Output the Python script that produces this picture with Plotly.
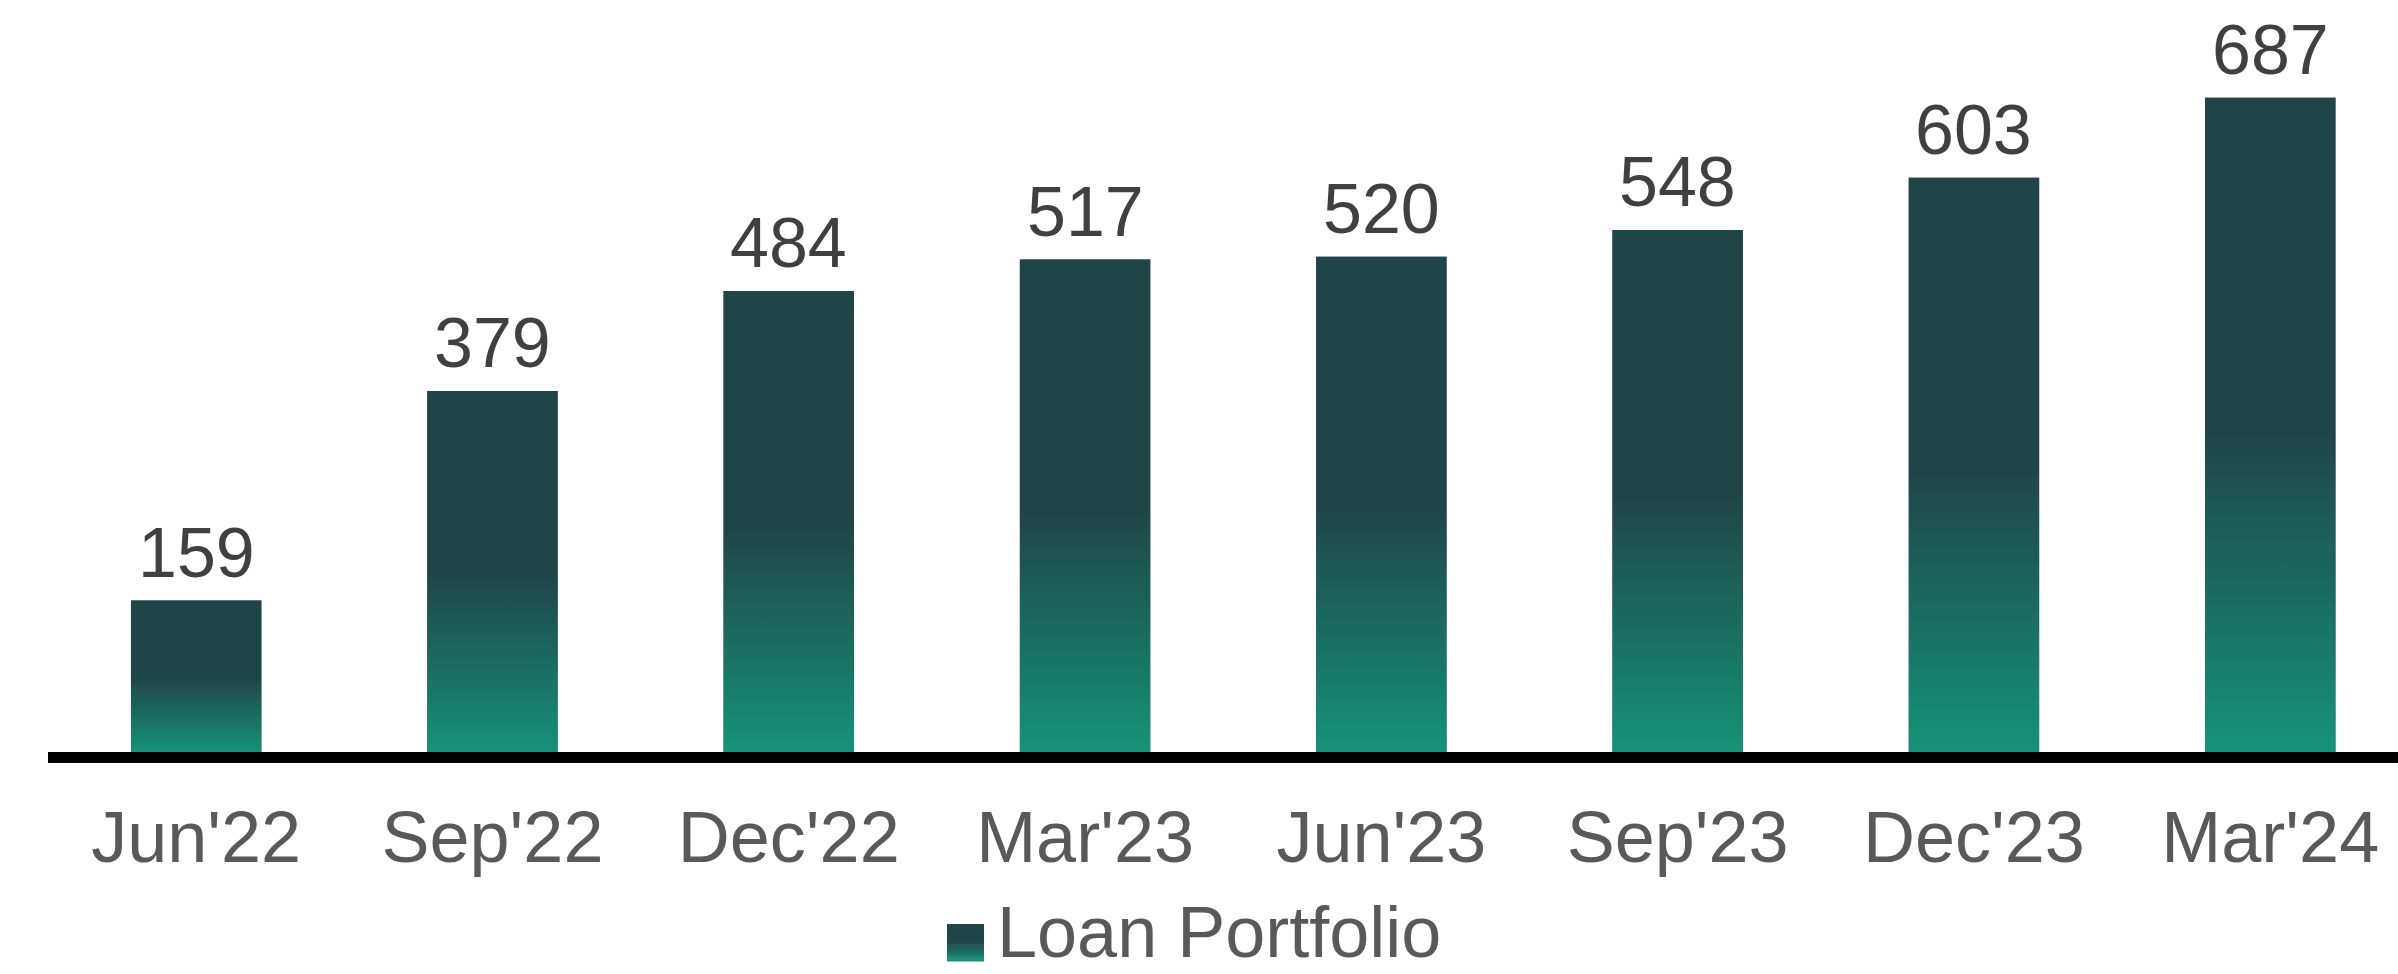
import plotly.graph_objects as go

# Quarter-end loan portfolio values
quarters = ["Jun'22", "Sep'22", "Dec'22", "Mar'23", "Jun'23", "Sep'23", "Dec'23", "Mar'24"]
loan_portfolio = [159, 379, 484, 517, 520, 548, 603, 687]
series_name = "Loan Portfolio"

W, H = 2398, 974
M_L, M_R, M_T, M_B = 48, 0, 0, 222
DARK = "#204548"
GREEN = "#159378"
FONT = "Liberation Sans, Arial, sans-serif"

BAR_W = 0.44          # bar width in category units
GRAD_FRAC = 0.49      # share of each bar (from the base) taken by the colour ramp
Y_MAX = 789.5
X_RANGE = [-0.5, -0.5 + (W - M_L - M_R) / 296.3]

xs = list(range(len(quarters)))

fig = go.Figure()

fig.add_trace(go.Bar(
    x=xs, y=loan_portfolio, name=series_name, width=BAR_W,
    marker=dict(color=DARK, line=dict(width=0)),
    showlegend=False,
))

# gradient fill laid over each bar: green at the base ramping to the dark tone,
# then padded with the dark tone up to the bar top
for i, v in zip(xs, loan_portfolio):
    fig.add_trace(go.Scatter(
        x=[i - BAR_W / 2, i + BAR_W / 2, i + BAR_W / 2, i - BAR_W / 2, i - BAR_W / 2],
        y=[0, 0, v, v, 0],
        mode="none", fill="toself",
        fillgradient=dict(type="vertical", colorscale=[[0, GREEN], [1, DARK]],
                          start=0, stop=v * GRAD_FRAC),
        hoverinfo="skip", showlegend=False,
    ))

# value labels above the bars
for i, v in zip(xs, loan_portfolio):
    fig.add_annotation(
        x=i, y=v, text=str(v), showarrow=False, xanchor="center", yanchor="bottom",
        yshift=7, font=dict(family=FONT, size=70, color="#404040"),
    )

# legend key drawn in paper coordinates
plot_w = W - M_L - M_R
plot_h = H - M_T - M_B


def px_x(px):
    return (px - M_L) / plot_w


def px_y(py):
    return (H - M_B - py) / plot_h


def mix(c1, c2, t):
    a = [int(c1[k:k + 2], 16) for k in (1, 3, 5)]
    b = [int(c2[k:k + 2], 16) for k in (1, 3, 5)]
    return "rgb(%d,%d,%d)" % tuple(round(a[j] + (b[j] - a[j]) * t) for j in range(3))


key_x0, key_x1, key_y0, key_y1 = 947, 984, 924, 961
n_slices = 10
half = (key_y1 - key_y0) / 2
fig.add_shape(type="rect", xref="paper", yref="paper",
              x0=px_x(key_x0), x1=px_x(key_x1), y0=px_y(key_y0), y1=px_y(key_y0 + half + 0.5),
              fillcolor=DARK, line=dict(width=0))
for s in range(n_slices):
    ya = key_y0 + half + s * half / n_slices
    yb = ya + half / n_slices
    fig.add_shape(type="rect", xref="paper", yref="paper",
                  x0=px_x(key_x0), x1=px_x(key_x1), y0=px_y(ya), y1=px_y(yb + 0.5),
                  fillcolor=mix(DARK, GREEN, (s + 0.5) / n_slices), line=dict(width=0))

fig.add_annotation(
    xref="paper", yref="paper", x=px_x(996), y=px_y(H - 1), text=series_name,
    showarrow=False, xanchor="left", yanchor="bottom", borderpad=0,
    font=dict(family=FONT, size=72, color="#595959"),
)

fig.update_layout(
    width=W, height=H,
    margin=dict(l=M_L, r=M_R, t=M_T, b=M_B, pad=0),
    paper_bgcolor="white", plot_bgcolor="white",
    showlegend=False,
    xaxis=dict(
        range=X_RANGE, tickmode="array", tickvals=xs, ticktext=quarters,
        showline=True, linecolor="black", linewidth=11,
        showgrid=False, zeroline=False, ticks="",
        tickfont=dict(family=FONT, size=72, color="#595959"),
        ticklabelstandoff=13, fixedrange=True,
    ),
    yaxis=dict(range=[0, Y_MAX], visible=False, showgrid=False, zeroline=False, fixedrange=True),
)

fig.write_html("out.html")
